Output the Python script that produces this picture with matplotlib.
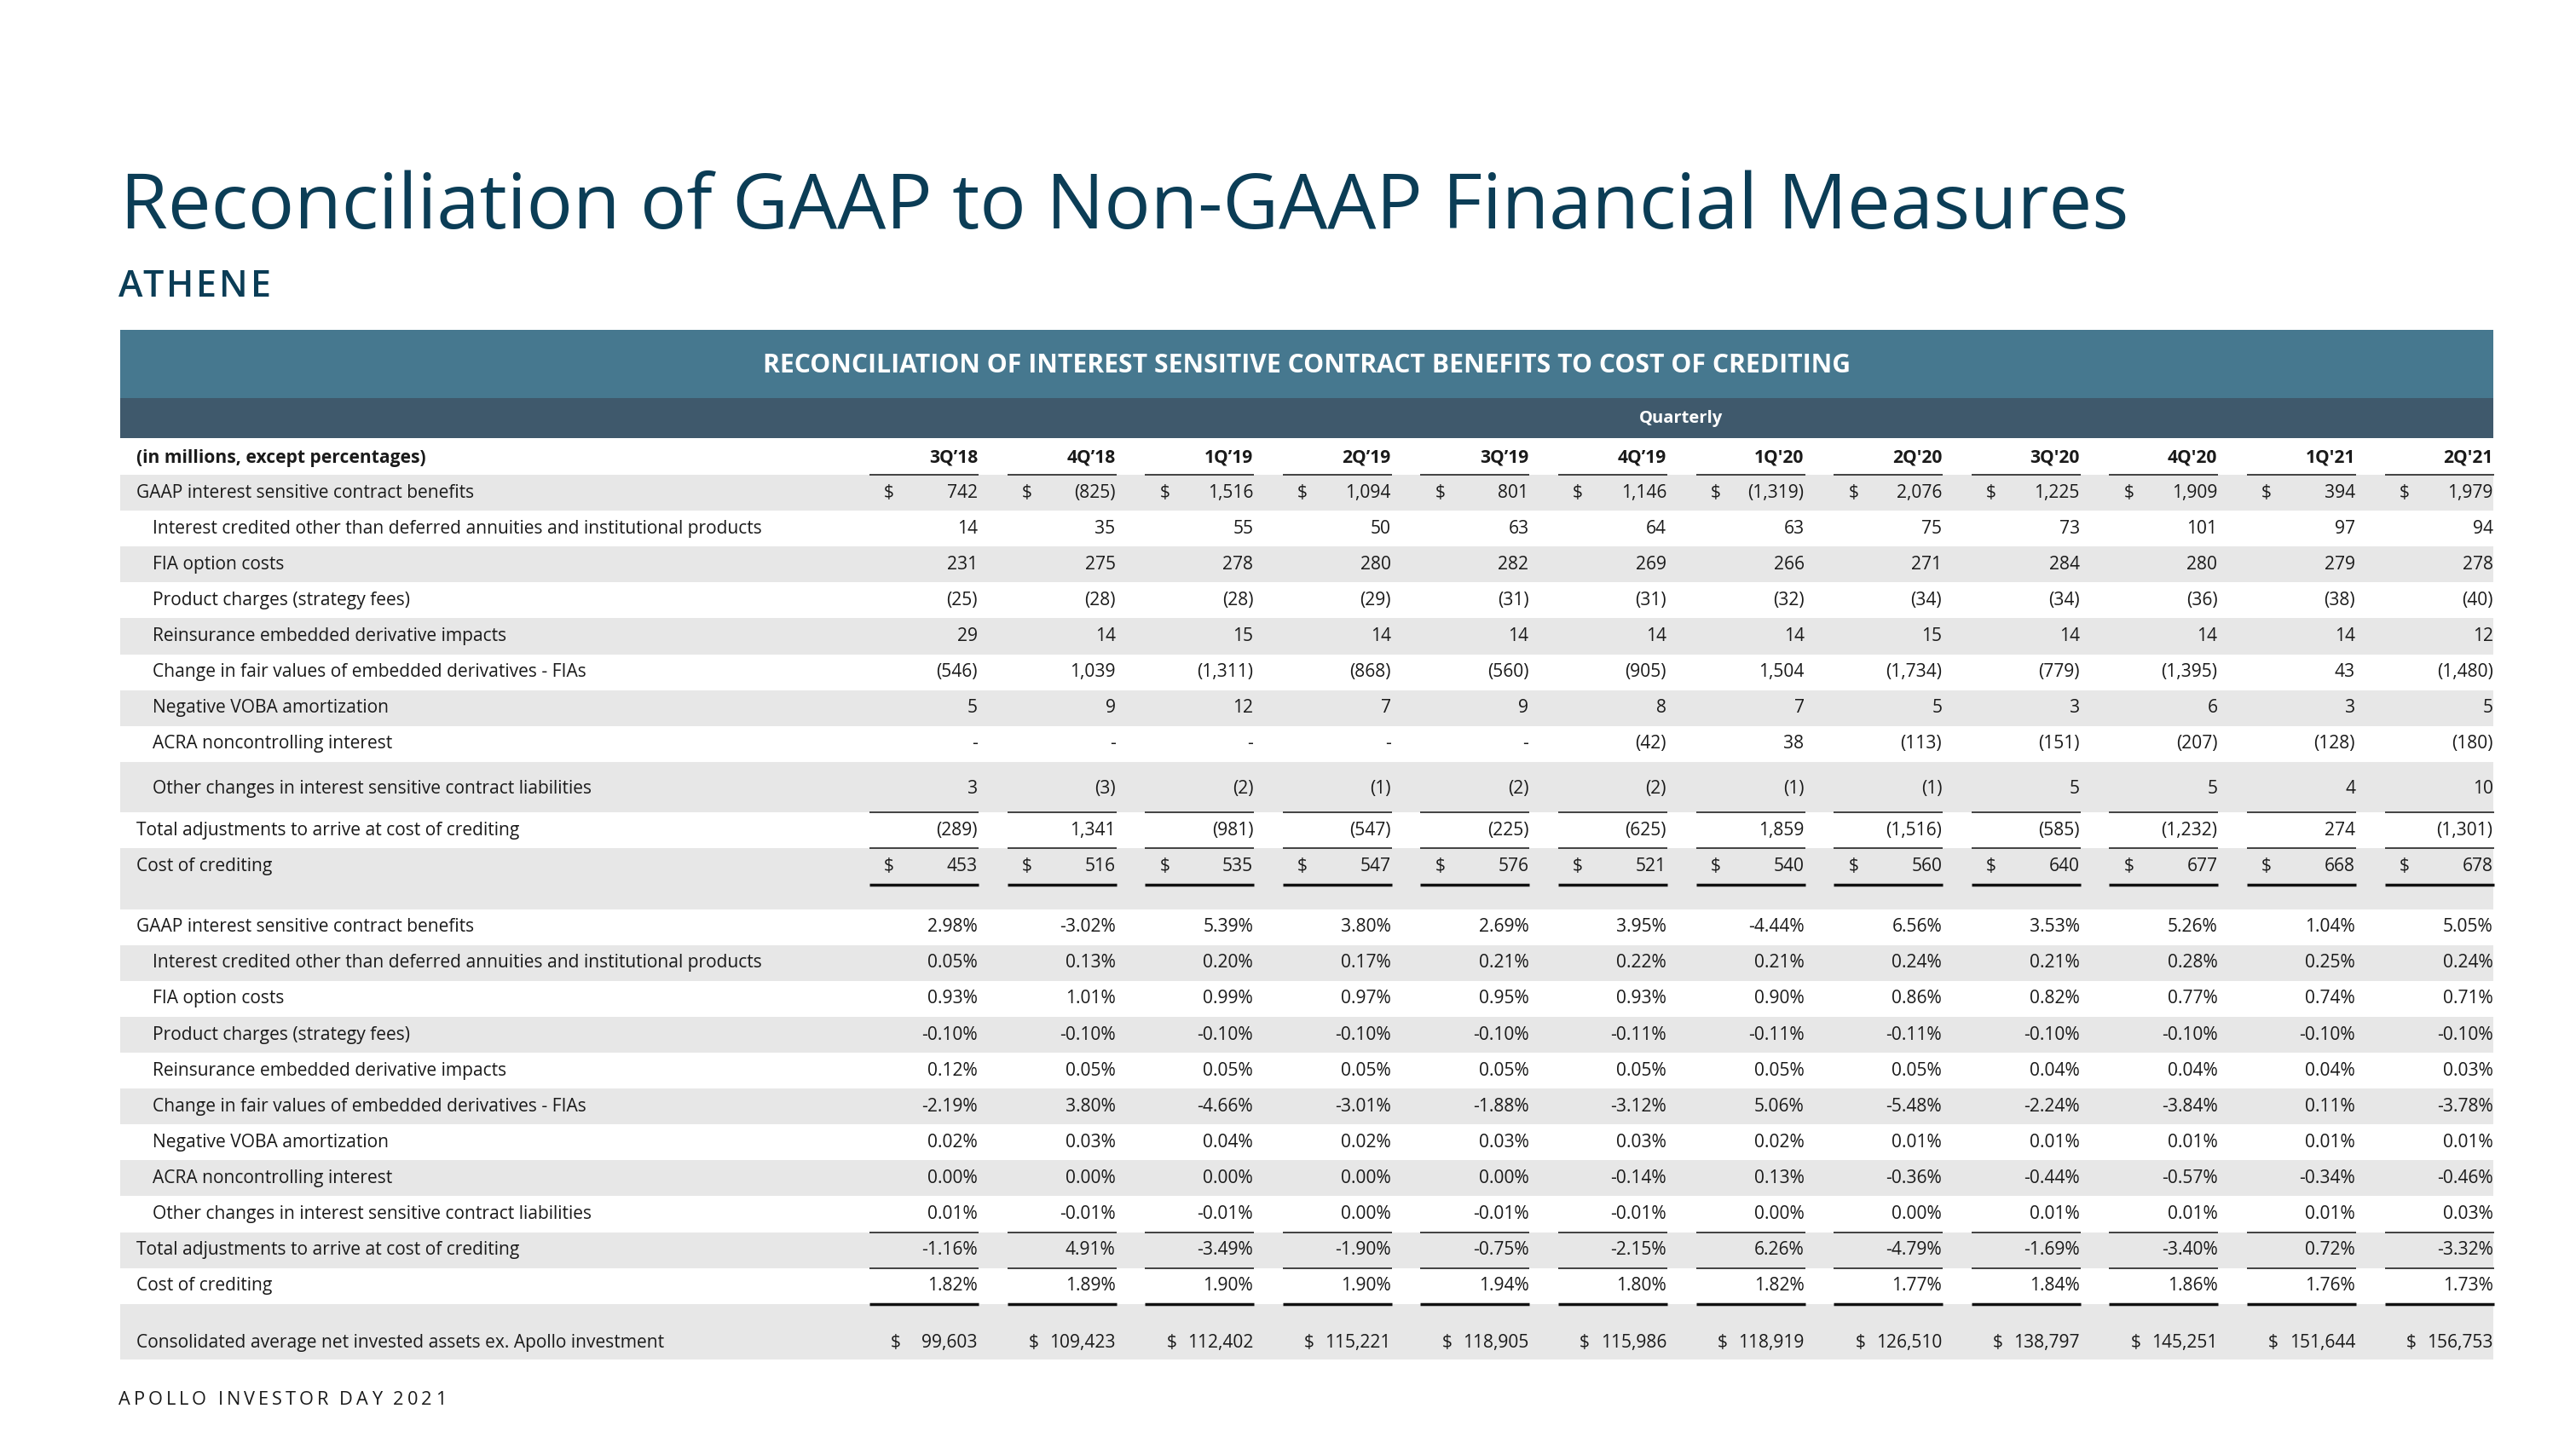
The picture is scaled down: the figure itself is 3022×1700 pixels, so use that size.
import matplotlib.pyplot as plt
from matplotlib.patches import Rectangle

W, H = 3022, 1700
plt.rcParams['font.family'] = ['Open Sans', 'DejaVu Sans']

# ---- data ----
quarters = ["3Q’18", "4Q’18", "1Q’19", "2Q’19", "3Q’19", "4Q’19",
            "1Q'20", "2Q'20", "3Q'20", "4Q'20", "1Q'21", "2Q'21"]

gaap_benefits = [742, -825, 1516, 1094, 801, 1146, -1319, 2076, 1225, 1909, 394, 1979]
interest_credited = [14, 35, 55, 50, 63, 64, 63, 75, 73, 101, 97, 94]
fia_option_costs = [231, 275, 278, 280, 282, 269, 266, 271, 284, 280, 279, 278]
product_charges = [-25, -28, -28, -29, -31, -31, -32, -34, -34, -36, -38, -40]
reinsurance_impacts = [29, 14, 15, 14, 14, 14, 14, 15, 14, 14, 14, 12]
fair_value_change = [-546, 1039, -1311, -868, -560, -905, 1504, -1734, -779, -1395, 43, -1480]
voba_amortization = [5, 9, 12, 7, 9, 8, 7, 5, 3, 6, 3, 5]
acra_nci = [None, None, None, None, None, -42, 38, -113, -151, -207, -128, -180]
other_changes = [3, -3, -2, -1, -2, -2, -1, -1, 5, 5, 4, 10]
total_adjustments = [-289, 1341, -981, -547, -225, -625, 1859, -1516, -585, -1232, 274, -1301]
cost_of_crediting = [453, 516, 535, 547, 576, 521, 540, 560, 640, 677, 668, 678]

pct_gaap = [2.98, -3.02, 5.39, 3.80, 2.69, 3.95, -4.44, 6.56, 3.53, 5.26, 1.04, 5.05]
pct_interest = [0.05, 0.13, 0.20, 0.17, 0.21, 0.22, 0.21, 0.24, 0.21, 0.28, 0.25, 0.24]
pct_fia = [0.93, 1.01, 0.99, 0.97, 0.95, 0.93, 0.90, 0.86, 0.82, 0.77, 0.74, 0.71]
pct_product = [-0.10, -0.10, -0.10, -0.10, -0.10, -0.11, -0.11, -0.11, -0.10, -0.10, -0.10, -0.10]
pct_reinsurance = [0.12, 0.05, 0.05, 0.05, 0.05, 0.05, 0.05, 0.05, 0.04, 0.04, 0.04, 0.03]
pct_fair_value = [-2.19, 3.80, -4.66, -3.01, -1.88, -3.12, 5.06, -5.48, -2.24, -3.84, 0.11, -3.78]
pct_voba = [0.02, 0.03, 0.04, 0.02, 0.03, 0.03, 0.02, 0.01, 0.01, 0.01, 0.01, 0.01]
pct_acra = [0.00, 0.00, 0.00, 0.00, 0.00, -0.14, 0.13, -0.36, -0.44, -0.57, -0.34, -0.46]
pct_other = [0.01, -0.01, -0.01, 0.00, -0.01, -0.01, 0.00, 0.00, 0.01, 0.01, 0.01, 0.03]
pct_total = [-1.16, 4.91, -3.49, -1.90, -0.75, -2.15, 6.26, -4.79, -1.69, -3.40, 0.72, -3.32]
pct_cost = [1.82, 1.89, 1.90, 1.90, 1.94, 1.80, 1.82, 1.77, 1.84, 1.86, 1.76, 1.73]

avg_invested_assets = [99603, 109423, 112402, 115221, 118905, 115986,
                       118919, 126510, 138797, 145251, 151644, 156753]

labels = ["GAAP interest sensitive contract benefits",
          "Interest credited other than deferred annuities and institutional products",
          "FIA option costs",
          "Product charges (strategy fees)",
          "Reinsurance embedded derivative impacts",
          "Change in fair values of embedded derivatives - FIAs",
          "Negative VOBA amortization",
          "ACRA noncontrolling interest",
          "Other changes in interest sensitive contract liabilities",
          "Total adjustments to arrive at cost of crediting",
          "Cost of crediting"]
label_levels = [0, 1, 1, 1, 1, 1, 1, 1, 1, 0, 0]

usd_series = [gaap_benefits, interest_credited, fia_option_costs, product_charges,
              reinsurance_impacts, fair_value_change, voba_amortization, acra_nci,
              other_changes, total_adjustments, cost_of_crediting]
pct_series = [pct_gaap, pct_interest, pct_fia, pct_product, pct_reinsurance,
              pct_fair_value, pct_voba, pct_acra, pct_other, pct_total, pct_cost]

# ---- styles ----
TITLE_C = '#0b3d56'
BAND1 = '#46788f'
BAND2 = '#3f596c'
SHADE = '#e7e7e7'
TXT = '#1a1a1a'
FS = 15.1

fig = plt.figure(figsize=(W / 100, H / 100), dpi=100)
ax = fig.add_axes([0, 0, 1, 1])
ax.set_xlim(0, W)
ax.set_ylim(H, 0)
ax.axis('off')
renderer = fig.canvas.get_renderer()


def text_width(s, **kw):
    t = ax.text(0, 0, s, **kw)
    w = t.get_window_extent(renderer).width
    t.remove()
    return w


def spaced_text(x0, x1, y, s, **kw):
    # spread letters so the string runs from x0 to x1
    natural = text_width(s, **kw)
    gap = (x1 - x0 - natural) / (len(s) - 1)
    for i, ch in enumerate(s):
        if ch == ' ':
            continue
        left = text_width(s[:i + 1], **kw) - text_width(ch, **kw)
        ax.text(x0 + left + i * gap, y, ch, ha='left', va='baseline', **kw)


def fmt_usd(v):
    if v is None:
        return '-'
    if v < 0:
        return '({:,})'.format(-v)
    return '{:,}'.format(v)


def fmt_pct(v):
    return '{:.2f}%'.format(v)


# ---- titles ----
ax.text(141, 268, 'Reconciliation of GAAP to Non-GAAP Financial Measures',
        fontsize=65.1, color=TITLE_C, ha='left', va='baseline')
spaced_text(139, 318, 348, 'ATHENE', fontsize=31, fontweight='semibold', color=TITLE_C)
spaced_text(139, 523, 1648, 'APOLLO INVESTOR DAY 2021', fontsize=15.7, color=TXT)

# ---- table frame ----
T_LEFT, T_RIGHT = 141, 2925
ax.add_patch(Rectangle((T_LEFT, 387), T_RIGHT - T_LEFT, 80, color=BAND1, lw=0))
ax.add_patch(Rectangle((T_LEFT, 467), T_RIGHT - T_LEFT, 47, color=BAND2, lw=0))
ax.text((T_LEFT + T_RIGHT) / 2, 429,
        'RECONCILIATION OF INTEREST SENSITIVE CONTRACT BENEFITS TO COST OF CREDITING',
        fontsize=21.7, fontweight='bold', color='white', ha='center', va='center')

col_right = [1147 + i * 161.6 for i in range(len(quarters))]
ax.text((col_right[0] - 127 + col_right[-1]) / 2, 491, 'Quarterly', fontsize=14.5,
        fontweight='bold', color='white', ha='center', va='center')

ax.text(160, 537, '(in millions, except percentages)', fontsize=FS, fontweight='bold',
        color=TXT, ha='left', va='center')
for xr, q in zip(col_right, quarters):
    ax.text(xr, 537, q, fontsize=FS, fontweight='bold', color=TXT, ha='right', va='center')


def underline(y, lw):
    for xr in col_right:
        ax.plot([xr - 127, xr + 1], [y, y], color='#111111', lw=lw, solid_capstyle='butt')


ROW_H = 42.1
LX = {0: 160, 1: 179}

# build row list: (label, level, texts, dollar, height, text offset)
rows = []
for i, (lab, lev, vals) in enumerate(zip(labels, label_levels, usd_series)):
    h, off = ROW_H, ROW_H / 2
    if i == 8:
        h, off = 59.4, 31.5
    if i == 10:
        h, off = 71.4, 20.8
    rows.append((lab, lev, [fmt_usd(v) for v in vals], i in (0, 10), h, off))
for lab, lev, vals in zip(labels, label_levels, pct_series):
    rows.append((lab, lev, [fmt_pct(v) for v in vals], False, ROW_H, ROW_H / 2))
rows.append(('Consolidated average net invested assets ex. Apollo investment', 0,
             [fmt_usd(v) for v in avg_invested_assets], True, 65.2, 46))

y = 557
row_tops = []
for k, (lab, lev, texts, dollar, h, off) in enumerate(rows):
    row_tops.append(y)
    if k % 2 == 0:
        ax.add_patch(Rectangle((T_LEFT, y), T_RIGHT - T_LEFT, h, color=SHADE, lw=0, zorder=0))
    yc = y + off
    ax.text(LX[lev], yc, lab, fontsize=FS, color=TXT, ha='left', va='center')
    for xr, s in zip(col_right, texts):
        ax.text(xr, yc, s, fontsize=FS, color=TXT, ha='right', va='center')
        if dollar:
            dx = 96 if k == len(rows) - 1 else 104
            ax.text(xr - dx, yc, '$', fontsize=FS, color=TXT, ha='center', va='center')
    y += h

# rules under header, around totals, under cost of crediting
underline(557, 1.1)
for base in (0, 11):
    underline(row_tops[base + 9], 1.1)
    underline(row_tops[base + 10], 1.1)
underline(row_tops[10] + ROW_H + 1, 2.5)
underline(row_tops[21] + ROW_H, 2.5)

fig.savefig('out.png', dpi=100)
